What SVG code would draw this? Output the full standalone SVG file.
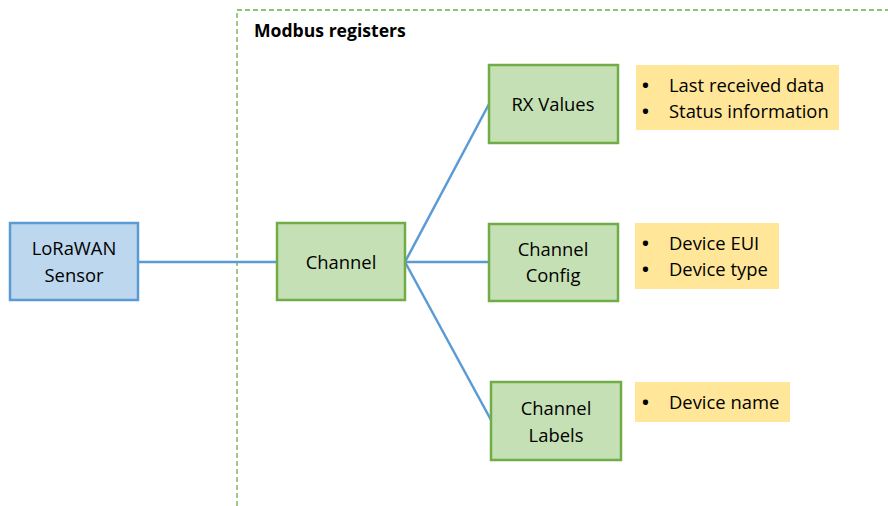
<svg xmlns="http://www.w3.org/2000/svg" width="888" height="506" viewBox="0 0 888 506">
<style>
.t{font-family:"Open Sans","Liberation Sans",Arial,sans-serif;font-size:18.4px;fill:#000;}
.c{text-anchor:middle;dominant-baseline:central;}
.b{dominant-baseline:central;}
.d{font-weight:bold;}
.g{fill:#C5E0B4;stroke:#70AD47;stroke-width:2.5;}
.bl{fill:#BDD7EE;stroke:#5B9BD5;stroke-width:2.5;}
.y{fill:#FFE699;}
.con{stroke:#5B9BD5;stroke-width:2.5;fill:none;}
</style>
<rect width="888" height="506" fill="#fff"/>
<g id="frame">
<path d="M237,506 V10 H888" fill="none" stroke="#70AD47" stroke-width="1.3" stroke-dasharray="5,3"/>
<text x="254" y="30" class="t b" style="font-weight:bold;font-size:17.6px">Modbus registers</text>
</g>
<g id="connectors">
<line class="con" x1="139" y1="262" x2="277" y2="262"/>
<line class="con" x1="405" y1="262" x2="489" y2="104"/>
<line class="con" x1="405" y1="262" x2="489" y2="262"/>
<line class="con" x1="405" y1="262" x2="491" y2="420"/>
</g>
<g id="sensor">
<rect class="bl" x="10" y="223" width="128" height="77"/>
<text class="t c" x="74" y="247">LoRaWAN</text>
<text class="t c" x="74" y="274">Sensor</text>
</g>
<g id="channel">
<rect class="g" x="277" y="223" width="128" height="77"/>
<text class="t c" x="341" y="261">Channel</text>
</g>
<g id="rx">
<rect class="g" x="489" y="65" width="129" height="78"/>
<text class="t c" x="553" y="103">RX Values</text>
</g>
<g id="config">
<rect class="g" x="489" y="224" width="129" height="77"/>
<text class="t c" x="553" y="248">Channel</text>
<text class="t c" x="553" y="274">Config</text>
</g>
<g id="labels">
<rect class="g" x="491" y="382" width="130" height="78"/>
<text class="t c" x="556" y="407">Channel</text>
<text class="t c" x="556" y="434">Labels</text>
</g>
<g id="note-rx">
<rect class="y" x="636" y="65" width="203" height="65"/>
<text class="t b d" x="642" y="84">•</text>
<text class="t b" x="669" y="84">Last received data</text>
<text class="t b d" x="642" y="110">•</text>
<text class="t b" x="669" y="110">Status information</text>
</g>
<g id="note-config">
<rect class="y" x="635" y="223" width="144" height="66"/>
<text class="t b d" x="642" y="242">•</text>
<text class="t b" x="669" y="242">Device EUI</text>
<text class="t b d" x="642" y="268">•</text>
<text class="t b" x="669" y="268">Device type</text>
</g>
<g id="note-labels">
<rect class="y" x="635" y="382" width="155" height="40"/>
<text class="t b d" x="642" y="401">•</text>
<text class="t b" x="669" y="401">Device name</text>
</g>
</svg>
